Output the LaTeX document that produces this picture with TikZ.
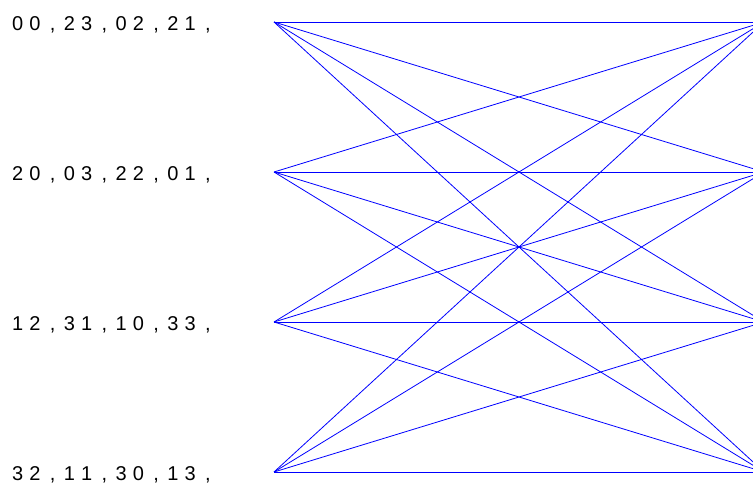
\documentclass[tikz,border=0pt]{standalone}
\usepackage{fontspec}
\setmainfont{Liberation Sans}
\newcommand\dg[1]{\makebox[17.25pt][l]{#1}}
\newcommand\cm{\makebox[17.25pt][l]{\hspace{3.3pt},}}
\begin{document}
\begin{tikzpicture}[x=1pt,y=-1pt,
  edge/.style={draw={rgb,255:red,0;green,0;blue,255},line width=0.8pt},
  lbl/.style={anchor=base west,inner sep=0pt,font=\fontsize{20}{24}\selectfont}]
\useasboundingbox (0,0) rectangle (753,486);
\clip (0,0) rectangle (753,486);
\coordinate (L0) at (274,22);
\coordinate (L1) at (274,172);
\coordinate (L2) at (274,322);
\coordinate (L3) at (274,472);
\coordinate (R0) at (764,22);
\coordinate (R1) at (764,172);
\coordinate (R2) at (764,322);
\coordinate (R3) at (764,472);
\node[lbl] (t0) at (11.9,30.5) {\dg0\dg0\cm\dg2\dg3\cm\dg0\dg2\cm\dg2\dg1\cm};
\node[lbl] (t1) at (11.9,180.5) {\dg2\dg0\cm\dg0\dg3\cm\dg2\dg2\cm\dg0\dg1\cm};
\node[lbl] (t2) at (11.9,330.5) {\dg1\dg2\cm\dg3\dg1\cm\dg1\dg0\cm\dg3\dg3\cm};
\node[lbl] (t3) at (11.9,480.5) {\dg3\dg2\cm\dg1\dg1\cm\dg3\dg0\cm\dg1\dg3\cm};
\foreach \i in {0,...,3}{
  \foreach \j in {0,...,3}{
    \draw[edge] (L\i) -- (R\j);
  }
}
\end{tikzpicture}
\end{document}
